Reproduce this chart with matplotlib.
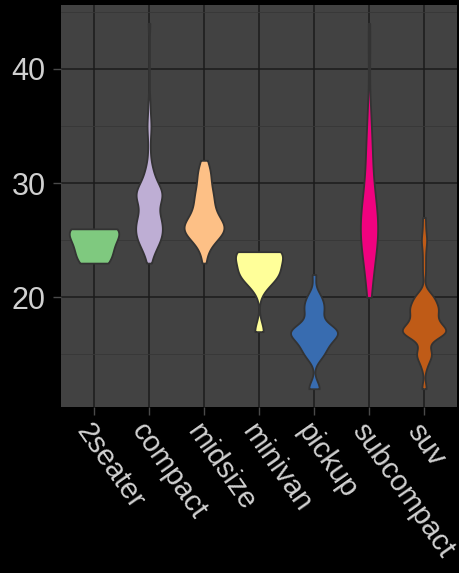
import numpy as np
import matplotlib
matplotlib.use("Agg")
import matplotlib.pyplot as plt
from matplotlib.ticker import FixedLocator

# Highway mileage (mpg) by vehicle class
classes = ["2seater", "compact", "midsize", "minivan", "pickup", "subcompact", "suv"]

hwy_2seater = [26, 23, 26, 25, 24]
hwy_compact = [29, 29, 31, 30, 26, 26, 27, 26, 25, 28, 27, 25, 25, 25, 25,
               29, 27, 25, 27, 25, 27, 27, 29, 31, 31, 26, 26, 27,
               30, 33, 35, 37, 35, 29, 26, 29, 29, 24,
               44, 29, 26, 29, 29, 29, 29, 23, 24]
hwy_midsize = [24, 25, 23, 27, 30, 26, 29, 26, 26, 27, 30, 31, 26, 26, 28,
               31, 32, 27, 26, 26, 25, 25, 26, 26, 27, 28, 25,
               29, 27, 31, 31, 26, 26, 28, 29, 29, 28, 29, 26, 26, 26]
hwy_minivan = [24, 24, 22, 22, 24, 24, 17, 22, 21, 23, 23]
hwy_pickup = [19, 18, 17, 17, 19, 19, 12, 17, 15,
              16, 12, 17, 17, 16, 12, 15, 16, 17, 15,
              17, 17, 16, 16, 17, 15, 17,
              20, 20, 22, 17, 19, 18, 20]
hwy_subcompact = [26, 25, 26, 24, 21, 22, 23, 22, 20,
                  33, 32, 32, 29, 32, 34, 36, 36, 29,
                  26, 29, 28, 27, 24, 24, 24,
                  26, 26, 26, 26,
                  44, 41, 29, 26, 28, 29]
hwy_suv = [20, 15, 20, 17, 17, 19, 14, 15, 17,
           17, 17, 12, 17, 16, 18, 15, 17, 17, 18,
           17, 19, 19, 19, 19, 17,
           22, 19, 20, 17, 12, 19, 18, 14,
           15, 18, 18, 15, 17, 16, 18, 17, 19, 19, 17,
           17, 17, 20, 18, 25, 24, 27, 25, 26, 23,
           20, 20, 19, 17, 20, 17, 15, 18]

groups = [hwy_2seater, hwy_compact, hwy_midsize, hwy_minivan,
          hwy_pickup, hwy_subcompact, hwy_suv]
colors = ["#7FC97F", "#BEAED4", "#FDC086", "#FFFF99", "#386CB0", "#F0027F", "#BF5B17"]

y_ticks = [20, 30, 40]


def nrd0(x):
    x = np.asarray(x, float)
    sd = x.std(ddof=1)
    q75, q25 = np.percentile(x, [75, 25])
    lo = min(sd, (q75 - q25) / 1.34)
    if lo <= 0:
        lo = sd if sd > 0 else 1.0
    return 0.9 * lo * len(x) ** -0.2


def kde(x, n=512):
    x = np.asarray(x, float)
    bw = nrd0(x)
    grid = np.linspace(x.min(), x.max(), n)
    z = (grid[:, None] - x[None, :]) / bw
    dens = np.exp(-0.5 * z ** 2).sum(axis=1) / (len(x) * bw * np.sqrt(2 * np.pi))
    return grid, dens


densities = [kde(g) for g in groups]
global_max = max(d.max() for _, d in densities)

fig = plt.figure(figsize=(4.59, 5.73), dpi=100, facecolor="black")
ax = fig.add_axes([61 / 459, 166 / 573, 396 / 459, 402 / 573])
ax.set_facecolor("#424242")

for i, ((grid, dens), col) in enumerate(zip(densities, colors)):
    pos = i + 1
    half = 0.45 * dens / global_max
    ax.fill_betweenx(grid, pos - half, pos + half, facecolor=col,
                     edgecolor="#333333", linewidth=1.3, zorder=3)

ax.set_xlim(0.4, 7.6)
ax.set_ylim(10.4, 45.6)
ax.set_xticks(range(1, len(classes) + 1))
ax.set_xticklabels(classes)
ax.set_yticks(y_ticks)
ax.yaxis.set_minor_locator(FixedLocator([15, 25, 35, 45]))

ax.grid(True, which="major", color="#1c1c1c", linewidth=1.1, zorder=0)
ax.grid(True, which="minor", axis="y", color="#373737", linewidth=0.6, zorder=0)
ax.set_axisbelow(True)
for s in ax.spines.values():
    s.set_visible(False)

ax.tick_params(axis="both", which="major", color="#4a4a4a", length=6, width=1,
               labelcolor="#d0d0d0")
ax.tick_params(axis="y", which="major", pad=5, labelsize=22)
ax.tick_params(axis="x", which="major", pad=2, labelsize=21)
ax.tick_params(axis="y", which="minor", length=0)
for lab in ax.get_yticklabels():
    lab.set_fontfamily("Liberation Sans")
for lab in ax.get_xticklabels():
    lab.set_fontfamily("Liberation Sans")
    lab.set_rotation(-55)
    lab.set_rotation_mode("anchor")
    lab.set_ha("left")
    lab.set_va("top")

fig.savefig("out.png", dpi=100, facecolor="black")
